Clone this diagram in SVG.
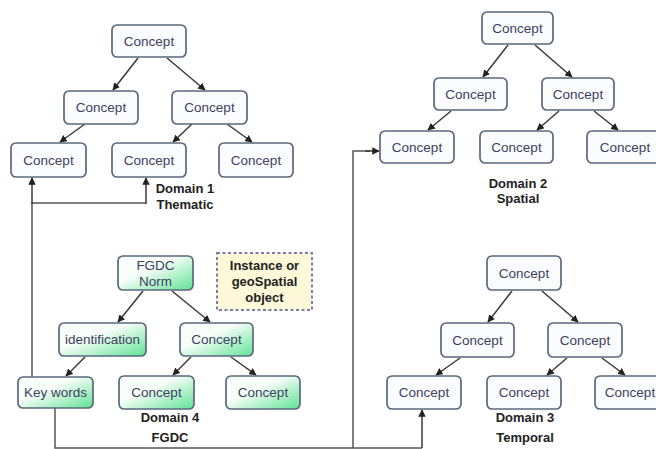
<svg xmlns="http://www.w3.org/2000/svg" width="656" height="449" viewBox="0 0 656 449">
<style>
.n{fill:#fbfcfe;stroke:#5a687e;stroke-width:1.7}
.g{fill:url(#gr);stroke:#5a687e;stroke-width:1.7}
.t{font-family:"Liberation Sans",Arial,sans-serif;font-size:13.5px;fill:#3c4160;text-anchor:middle}
.d{font-family:"Liberation Sans",Arial,sans-serif;font-size:13px;font-weight:bold;fill:#222;text-anchor:middle}
.c{fill:none;stroke:#3a3a3a;stroke-width:1.5;marker-end:url(#ah)}
.l{fill:none;stroke:#555;stroke-width:1.5}
</style>
<defs>
<linearGradient id="gr" x1="0" y1="0" x2="1" y2="1">
<stop offset="0.4" stop-color="#f7fdf9"/>
<stop offset="1" stop-color="#5ee393"/>
</linearGradient>
<marker id="ah" viewBox="0 0 10 10" refX="9" refY="5" markerWidth="5" markerHeight="5" orient="auto">
<path d="M0,0 L10,5 L0,10 z" fill="#222"/>
</marker>
</defs>
<rect width="656" height="449" fill="#fff"/>

<g id="connectors">
<!-- Domain 1 -->
<path class="c" d="M138,58 L113,90"/>
<path class="c" d="M167,58 L205,90"/>
<path class="c" d="M85,124 L60,142"/>
<path class="c" d="M192,124 L173,142"/>
<path class="c" d="M227,124 L252,142"/>
<!-- Domain 2 -->
<path class="c" d="M508,45 L483,77"/>
<path class="c" d="M535,45 L572,77"/>
<path class="c" d="M451,111 L428,130"/>
<path class="c" d="M559,111 L537,130"/>
<path class="c" d="M594,111 L618,130"/>
<!-- Domain 3 -->
<path class="c" d="M512,291 L488,322"/>
<path class="c" d="M542,291 L578,322"/>
<path class="c" d="M460,358 L436,375"/>
<path class="c" d="M567,358 L547,375"/>
<path class="c" d="M602,358 L625,375"/>
<!-- Domain 4 -->
<path class="c" d="M143,291 L118,322"/>
<path class="c" d="M172,291 L210,322"/>
<path class="c" d="M85,357 L66,376"/>
<path class="c" d="M191,357 L173,375"/>
<path class="c" d="M231,357 L256,375"/>
<!-- cross-domain links -->
<path class="l" d="M32,377 L32,203 L146,203"/>
<path class="c" d="M32,204 L32,178"/>
<path class="c" d="M146,204 L146,178"/>
<path class="l" d="M55,408 L55,448 L422,448"/>
<path class="c" d="M422,448 L422,410"/>
<path class="l" d="M353,448 L353,151 L370,151"/>
<path class="c" d="M365,151 L379,151"/>
</g>

<g id="d1-top"><rect class="n" x="112" y="25" width="74" height="32" rx="5"/><text class="t" x="149" y="46">Concept</text></g>
<g id="d1-ml"><rect class="n" x="64" y="91" width="74" height="33" rx="5"/><text class="t" x="101" y="112">Concept</text></g>
<g id="d1-mr"><rect class="n" x="172" y="91" width="75" height="33" rx="5"/><text class="t" x="209.5" y="112">Concept</text></g>
<g id="d1-bl"><rect class="n" x="11" y="143" width="75" height="34" rx="5"/><text class="t" x="48.5" y="165">Concept</text></g>
<g id="d1-bm"><rect class="n" x="112" y="143" width="74" height="34" rx="5"/><text class="t" x="149" y="165">Concept</text></g>
<g id="d1-br"><rect class="n" x="219" y="143" width="74" height="34" rx="5"/><text class="t" x="256" y="165">Concept</text></g>
<g id="d1-label"><text class="d" x="185" y="193">Domain 1</text><text class="d" x="185" y="209">Thematic</text></g>

<g id="d2-top"><rect class="n" x="482" y="12" width="71" height="32" rx="5"/><text class="t" x="517.5" y="33">Concept</text></g>
<g id="d2-ml"><rect class="n" x="434" y="78" width="73" height="32" rx="5"/><text class="t" x="470.5" y="99">Concept</text></g>
<g id="d2-mr"><rect class="n" x="542" y="78" width="72" height="32" rx="5"/><text class="t" x="578" y="99">Concept</text></g>
<g id="d2-bl"><rect class="n" x="380" y="131" width="74" height="32" rx="5"/><text class="t" x="417" y="152">Concept</text></g>
<g id="d2-bm"><rect class="n" x="480" y="131" width="73" height="32" rx="5"/><text class="t" x="516.5" y="152">Concept</text></g>
<g id="d2-br"><rect class="n" x="587" y="131" width="76" height="32" rx="5"/><text class="t" x="625" y="152">Concept</text></g>
<g id="d2-label"><text class="d" x="518" y="188">Domain 2</text><text class="d" x="518" y="203">Spatial</text></g>

<g id="d3-top"><rect class="n" x="487" y="256" width="74" height="34" rx="5"/><text class="t" x="524" y="278">Concept</text></g>
<g id="d3-ml"><rect class="n" x="441" y="323" width="73" height="34" rx="5"/><text class="t" x="477.5" y="345">Concept</text></g>
<g id="d3-mr"><rect class="n" x="548" y="323" width="74" height="34" rx="5"/><text class="t" x="585" y="345">Concept</text></g>
<g id="d3-bl"><rect class="n" x="387" y="376" width="74" height="33" rx="5"/><text class="t" x="424" y="397">Concept</text></g>
<g id="d3-bm"><rect class="n" x="487" y="376" width="74" height="33" rx="5"/><text class="t" x="524" y="397">Concept</text></g>
<g id="d3-br"><rect class="n" x="595" y="376" width="76" height="33" rx="5"/><text class="t" x="630" y="397">Concept</text></g>
<g id="d3-label"><text class="d" x="525" y="422">Domain 3</text><text class="d" x="525" y="442">Temporal</text></g>

<g id="d4-norm"><rect class="g" x="118" y="256" width="75" height="34" rx="5"/><text class="t" x="155.5" y="270">FGDC</text><text class="t" x="155.5" y="286">Norm</text></g>
<g id="instance"><rect x="217" y="253" width="95" height="57" fill="#fcf8d8" stroke="#7d7bb6" stroke-width="2" stroke-dasharray="3,2.5"/><text class="d" x="264.5" y="270">Instance or</text><text class="d" x="264.5" y="286">geoSpatial</text><text class="d" x="264.5" y="302">object</text></g>
<g id="d4-ident"><rect class="g" x="59" y="323" width="87" height="33" rx="5"/><text class="t" x="102.5" y="344">identification</text></g>
<g id="d4-concept"><rect class="g" x="180" y="323" width="73" height="33" rx="5"/><text class="t" x="216.5" y="344">Concept</text></g>
<g id="d4-keywords"><rect class="g" x="18" y="377" width="75" height="31" rx="5"/><text class="t" x="55.5" y="397">Key words</text></g>
<g id="d4-bm"><rect class="g" x="119" y="376" width="75" height="33" rx="5"/><text class="t" x="156.5" y="397">Concept</text></g>
<g id="d4-br"><rect class="g" x="226" y="376" width="74" height="33" rx="5"/><text class="t" x="263" y="397">Concept</text></g>
<g id="d4-label"><text class="d" x="170" y="422">Domain 4</text><text class="d" x="170" y="442">FGDC</text></g>
</svg>
